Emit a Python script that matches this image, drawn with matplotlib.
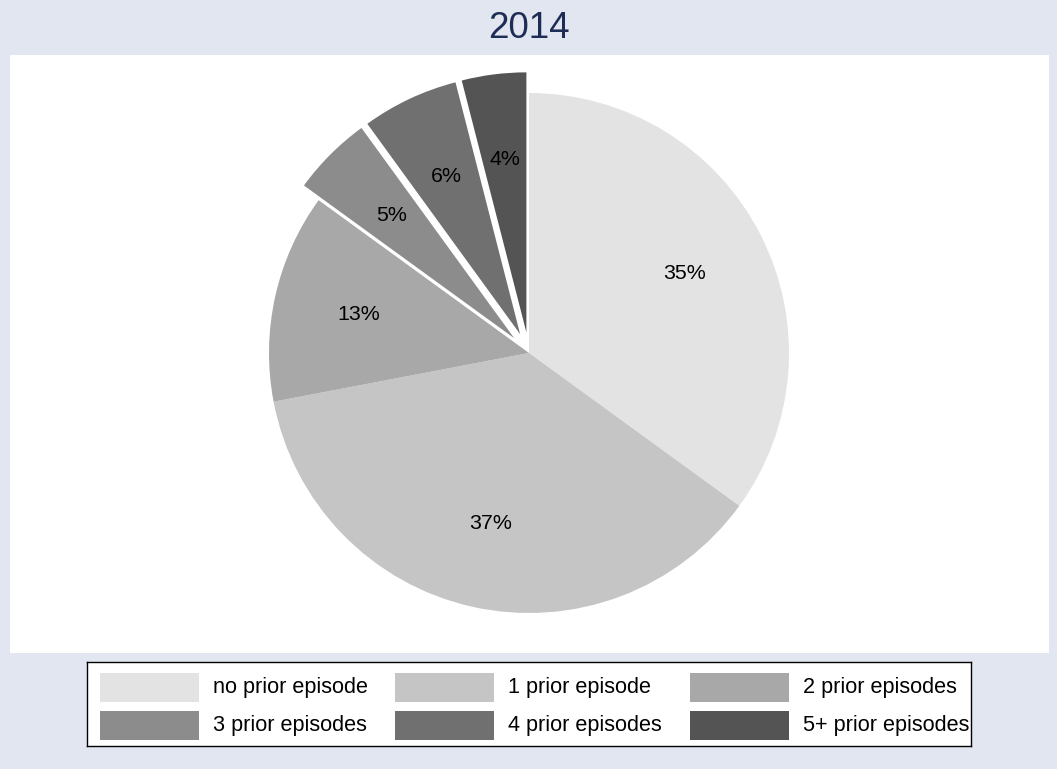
import matplotlib
matplotlib.use("Agg")
import matplotlib.pyplot as plt
from matplotlib.patches import Rectangle

# data
categories = ["no prior episode", "1 prior episode", "2 prior episodes",
              "3 prior episodes", "4 prior episodes", "5+ prior episodes"]
shares = [35, 37, 13, 5, 6, 4]
exploded = [0, 0, 0, 1, 1, 1]
colors = ["#e3e3e3", "#c5c5c5", "#a8a8a8", "#8c8c8c", "#707070", "#545454"]
title = "2014"

W, H = 1057, 769
bg = "#e1e6f0"
fig = plt.figure(figsize=(W / 100, H / 100), dpi=100, facecolor=bg)
plt.rcParams["font.family"] = ["Liberation Sans", "DejaVu Sans"]

# plot region in pixels
left, right, top, bottom = 10, 1049, 55, 653
cx, cy, r = 529, 353, 260

ax = fig.add_axes([left / W, 1 - bottom / H, (right - left) / W, (bottom - top) / H])
wedges, texts, autotexts = ax.pie(
    shares, colors=colors, startangle=90, counterclock=False,
    explode=[0.08 * e for e in exploded],
    autopct=lambda p: "%d%%" % round(p), pctdistance=0.67,
    textprops=dict(fontsize=15.4, color="black"),
    wedgeprops=dict(linewidth=0))
ax.set_aspect("auto")
ax.set_xlim((left - cx) / r, (right - cx) / r)
ax.set_ylim((cy - bottom) / r, (cy - top) / r)
ax.set_frame_on(True)
ax.set_facecolor("white")
for s in ax.spines.values():
    s.set_visible(False)
ax.set_xticks([])
ax.set_yticks([])

fig.text(0.5, 1 - 28 / H, title, ha="center", va="center", fontsize=26.5, color="#1e2d55")

# legend box, 3 columns x 2 rows
lx0, lx1, ly0, ly1 = 87, 971, 662, 746
lax = fig.add_axes([lx0 / W, 1 - ly1 / H, (lx1 - lx0) / W, (ly1 - ly0) / H])
lax.set_xlim(lx0, lx1)
lax.set_ylim(ly1, ly0)
lax.set_xticks([])
lax.set_yticks([])
lax.set_facecolor("white")
for s in lax.spines.values():
    s.set_linewidth(1.0)
    s.set_color("black")
col_x = [100, 395, 690]
row_y = [673, 711]
sw_w, sw_h = 99, 29
for i, (lab, c) in enumerate(zip(categories, colors)):
    x = col_x[i % 3]
    y = row_y[i // 3]
    lax.add_patch(Rectangle((x, y), sw_w, sw_h, facecolor=c, edgecolor="none"))
    lax.text(x + sw_w + 14, y + sw_h / 2, lab, ha="left", va="center", fontsize=15.6)

fig.savefig("out.png", dpi=100, facecolor=bg)
